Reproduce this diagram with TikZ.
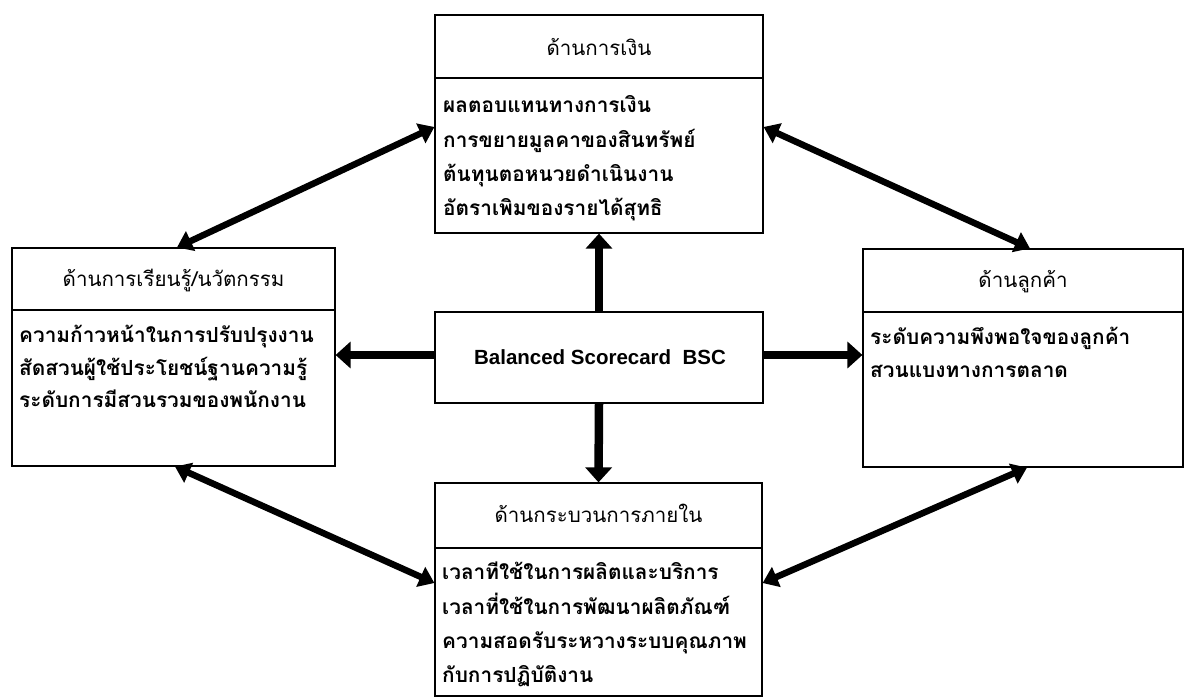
\documentclass[tikz,border=0pt]{standalone}
\usepackage{fontspec}
\setmainfont{Liberation Sans}
\newfontfamily\thai[Script=Thai]{Loma}
\usetikzlibrary{arrows.meta,calc}
\begin{document}
\begin{tikzpicture}[x=1pt,y=-1pt,
  box/.style={draw, line width=1.2pt, inner sep=0pt},
  hdr/.style={font=\thai\fontsize{20.5}{24}\selectfont, inner sep=0pt, anchor=base},
  txt/.style={font=\thai\bfseries\fontsize{20.8}{24}\selectfont, inner sep=0pt, anchor=base west},
  dbl/.style={line width=6.5pt, {Triangle[length=15pt,width=21pt]}-{Triangle[length=15pt,width=21pt]}},
  one/.style={line width=8.5pt, -{Triangle[length=15pt,width=26pt]}},
  divider/.style={line width=1.2pt}]
\useasboundingbox (0,0) rectangle (1186,697);
% boxes
\node[box, minimum width=328pt, minimum height=218pt] (fin) at (599,124) {};
\node[box, minimum width=323pt, minimum height=218pt] (lrn) at (173.5,357) {};
\node[box, minimum width=320pt, minimum height=218pt] (cus) at (1023,358) {};
\node[box, minimum width=328pt, minimum height=91pt] (bsc) at (599,357.5) {};
\node[box, minimum width=327pt, minimum height=213pt] (int) at (598.5,589.5) {};
% dividers
\draw[divider] (fin.west |- 0,78) -- (fin.east |- 0,78);
\draw[divider] (lrn.west |- 0,310) -- (lrn.east |- 0,310);
\draw[divider] (cus.west |- 0,312) -- (cus.east |- 0,312);
\draw[divider] (int.west |- 0,548) -- (int.east |- 0,548);
% center text
\node[font=\bfseries\fontsize{20.5}{24}\selectfont, inner sep=0pt] (bsct) at (600,357) {Balanced Scorecard\ \ BSC};
% financial
\node[hdr] (finh) at (599,55) {ด้านการเงิน};
\node[txt] (fin1) at (443,112) {ผลตอบแทนทางการเงิน};
\node[txt] (fin2) at (443,147) {การขยายมูลคาของสินทรัพย์};
\node[txt] (fin3) at (443,181) {ต้นทุนตอหนวยดำเนินงาน};
\node[txt] (fin4) at (443,215) {อัตราเพิมของรายได้สุทธิ};
% learning
\node[hdr] (lrnh) at (173.5,286) {ด้านการเรียนรู้/นวัตกรรม};
\node[txt] (lrn1) at (19,342) {ความก้าวหน้าในการปรับปรุงงาน};
\node[txt] (lrn2) at (19,375) {สัดสวนผู้ใช้ประโยชน์ฐานความรู้};
\node[txt] (lrn3) at (19,407) {ระดับการมีสวนรวมของพนักงาน};
% customer
\node[hdr] (cush) at (1023,287) {ด้านลูกค้า};
\node[txt] (cus1) at (870,344) {ระดับความพึงพอใจของลูกค้า};
\node[txt] (cus2) at (870,377) {สวนแบงทางการตลาด};
% internal
\node[hdr] (inth) at (598.5,522) {ด้านกระบวนการภายใน};
\node[txt] (int1) at (442,579) {เวลาทีใช้ในการผลิตและบริการ};
\node[txt] (int2) at (442,614) {เวลาที่ใช้ในการพัฒนาผลิตภัณฑ์};
\node[txt] (int3) at (442,648) {ความสอดรับระหวางระบบคุณภาพ};
\node[txt] (int4) at (442,682) {กับการปฏิบัติงาน};
% double arrows
\draw[dbl] (lrn.north -| 177,0) -- (fin.west |- 0,127);
\draw[dbl] (fin.east |- 0,127) -- (cus.north -| 1030,0);
\draw[dbl] (lrn.south -| 175,0) -- (int.west |- 0,583);
\draw[dbl] (int.east |- 0,583) -- (cus.south -| 1027,0);
% center arrows
\draw[one] (bsc.north) -- (fin.south);
\draw[one] (bsc.south) -- (int.north);
\draw[one] (bsc.west |- 0,355) -- (lrn.east |- 0,355);
\draw[one] (bsc.east |- 0,355) -- (cus.west |- 0,355);
\end{tikzpicture}
\end{document}
